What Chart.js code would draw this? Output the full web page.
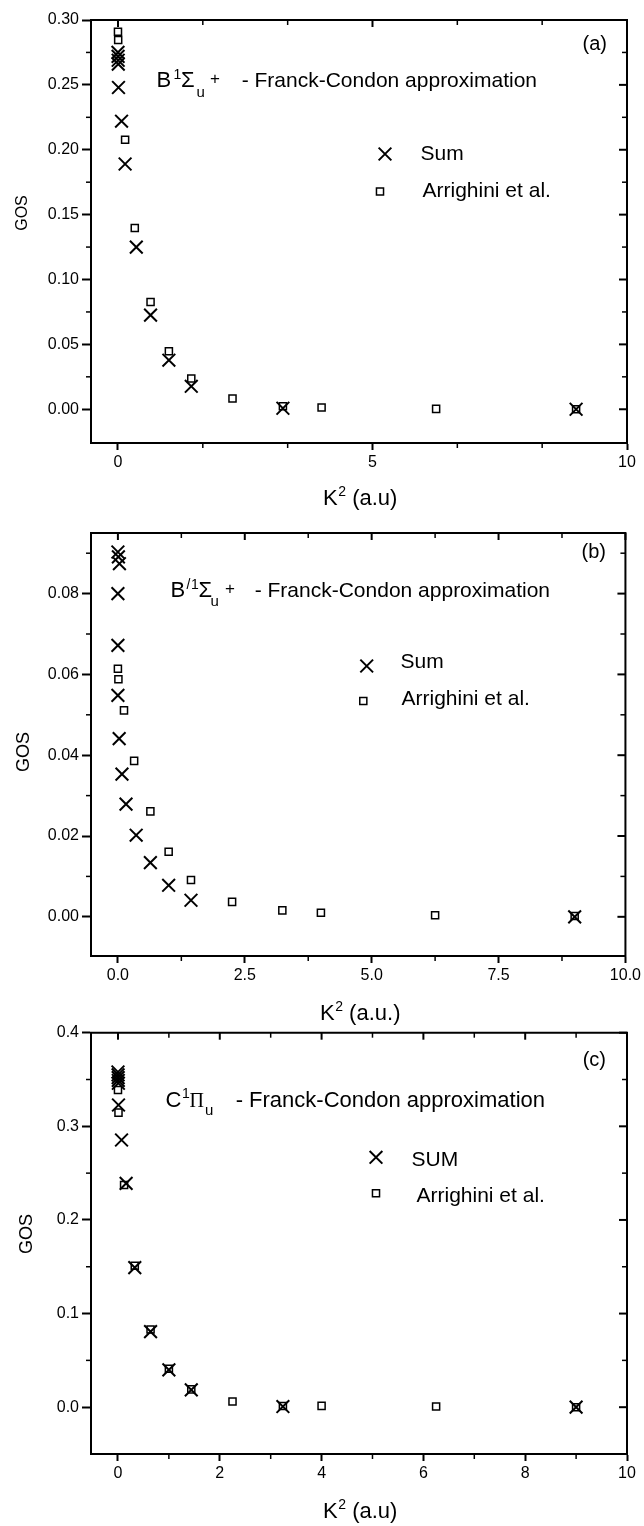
<!DOCTYPE html>
<html>
<head>
<meta charset="utf-8">
<script src="https://cdn.jsdelivr.net/npm/chart.js@4.4.1/dist/chart.umd.min.js"></script>
<style>
  body { margin: 0; background: #fff; }
  .painel { position: absolute; left: 0; width: 644px; }
</style>
</head>
<body>
<div class="painel" style="top:0px;height:515px"><canvas id="graficoA"></canvas></div>
<div class="painel" style="top:515px;height:510px"><canvas id="graficoB"></canvas></div>
<div class="painel" style="top:1018px;height:508px"><canvas id="graficoC"></canvas></div>
<script>
// (a) B1Σu+
const k2SomaA = [0, 0.002, 0.004, 0.006, 0.01, 0.07, 0.14, 0.36, 0.64, 1.0, 1.44, 3.24, 9.0]
const gosSomaA = [0.275, 0.272, 0.269, 0.266, 0.248, 0.222, 0.189, 0.125, 0.0725, 0.0378, 0.0177, 0.0008, 0.0]
const k2ArrA = [0, 0.004, 0.14, 0.33, 0.64, 1.0, 1.44, 2.25, 3.24, 4.0, 6.25, 9.0]
const gosArrA = [0.291, 0.2846, 0.2077, 0.1397, 0.0827, 0.0447, 0.0237, 0.0083, 0.0023, 0.0013, 0.0003, 0.0]

// (b) B'1Σu+
const k2SomaB = [0, 0.01, 0.03, 0, 0, 0, 0.025, 0.08, 0.16, 0.36, 0.64, 1.0, 1.44, 9.0]
const gosSomaB = [0.0903, 0.0891, 0.0874, 0.080, 0.0672, 0.0548, 0.0441, 0.0353, 0.0279, 0.0202, 0.0134, 0.0078, 0.0041, 0.0]
const k2ArrB = [0, 0.01, 0.12, 0.32, 0.64, 1.0, 1.44, 2.25, 3.24, 4.0, 6.25, 9.0]
const gosArrB = [0.0614, 0.0588, 0.0511, 0.0386, 0.0261, 0.0161, 0.0091, 0.0037, 0.0016, 0.0010, 0.0004, 0.0002]

// (c) C1Πu
const k2SomaC = [0, 0.002, 0.004, 0.006, 0.008, 0.01, 0.07, 0.16, 0.33, 0.64, 1.0, 1.44, 3.24, 9.0]
const gosSomaC = [0.358, 0.355, 0.352, 0.349, 0.346, 0.3228, 0.2854, 0.239, 0.149, 0.0807, 0.0398, 0.0185, 0.0007, 0.0]
const k2ArrC = [0, 0.01, 0.12, 0.33, 0.64, 1.0, 1.44, 2.25, 3.24, 4.0, 6.25, 9.0]
const gosArrC = [0.3388, 0.3146, 0.2374, 0.151, 0.083, 0.041, 0.019, 0.006, 0.0012, 0.0014, 0.0007, 0.0]

const SANS = '"Liberation Sans", Arial, sans-serif'
const SERIF = '"Liberation Serif", "Times New Roman", serif'

function pontos(xs, ys) {
  return xs.map((x, i) => ({ x: x, y: ys[i] }))
}

function menores(escala, passo, n) {
  const valores = []
  const sub = passo / (n + 1)
  const inicio = Math.floor(escala.min / passo) * passo
  for (let v = inicio; v <= escala.max + 1e-9; v += passo) {
    for (let k = 1; k <= n; k++) {
      const m = v + k * sub
      if (m > escala.min && m < escala.max) valores.push(m)
    }
  }
  return valores
}

function desenharMarcador(ctx, estilo, x, y) {
  ctx.save()
  ctx.strokeStyle = '#000'
  ctx.fillStyle = 'rgba(0,0,0,0)'
  if (estilo === 'crossRot') {
    ctx.lineWidth = 2
    Chart.helpers.drawPoint(ctx, { pointStyle: 'crossRot', radius: 9, borderWidth: 2, rotation: 0 }, x, y)
  } else {
    ctx.lineWidth = 1.5
    Chart.helpers.drawPoint(ctx, { pointStyle: 'rect', radius: 5, borderWidth: 1.5, rotation: 0 }, x, y)
  }
  ctx.restore()
}

const pluginMoldura = {
  id: 'moldura',
  afterDraw(chart, args, op) {
    const ctx = chart.ctx
    const a = chart.chartArea
    const sx = chart.scales.x
    const sy = chart.scales.y
    const topo = op.topo
    ctx.save()
    ctx.strokeStyle = '#000'
    ctx.lineWidth = 2
    ctx.beginPath()
    ctx.moveTo(a.left - 1, a.top)
    ctx.lineTo(a.right, a.top)
    ctx.lineTo(a.right, a.bottom + 1)
    ctx.stroke()

    // marcas principais de cima e da direita (para dentro)
    sx.ticks.forEach(t => {
      const px = sx.getPixelForValue(t.value)
      ctx.beginPath(); ctx.moveTo(px, a.top); ctx.lineTo(px, a.top + 7); ctx.stroke()
    })
    sy.ticks.forEach(t => {
      const py = sy.getPixelForValue(t.value)
      ctx.beginPath(); ctx.moveTo(a.right, py); ctx.lineTo(a.right - 8, py); ctx.stroke()
    })

    // marcas secundarias
    ctx.lineWidth = 1.5
    menores(sx, op.passoX, op.menoresX).forEach(v => {
      const px = sx.getPixelForValue(v)
      ctx.beginPath(); ctx.moveTo(px, a.bottom); ctx.lineTo(px, a.bottom + 5); ctx.stroke()
      ctx.beginPath(); ctx.moveTo(px, a.top); ctx.lineTo(px, a.top + 5); ctx.stroke()
    })
    menores(sy, op.passoY, op.menoresY).forEach(v => {
      const py = sy.getPixelForValue(v)
      if (Math.abs(py - a.bottom) < 3 || Math.abs(py - a.top) < 3) return
      ctx.beginPath(); ctx.moveTo(a.left, py); ctx.lineTo(a.left - 5, py); ctx.stroke()
      ctx.beginPath(); ctx.moveTo(a.right, py); ctx.lineTo(a.right - 5, py); ctx.stroke()
    })

    // textos
    ctx.fillStyle = '#000'
    ctx.textBaseline = 'alphabetic'
    op.textos.forEach(t => {
      ctx.font = t.f
      ctx.textAlign = t.al || 'left'
      if (t.rot) {
        ctx.save()
        ctx.translate(t.x, t.y - topo)
        ctx.rotate(-Math.PI / 2)
        ctx.textAlign = 'center'
        ctx.fillText(t.t, 0, 0)
        ctx.restore()
      } else {
        ctx.fillText(t.t, t.x, t.y - topo)
      }
    })

    // titulo do eixo x: K^2 (a.u)
    ctx.textAlign = 'left'
    ctx.font = '22px ' + SANS
    const wK = ctx.measureText('K').width
    const wR = ctx.measureText(op.unidade).width
    ctx.font = '14px ' + SANS
    const w2 = ctx.measureText('2').width
    let x = 360 - (wK + w2 + wR) / 2
    const yb = op.baseX - topo
    ctx.font = '22px ' + SANS
    ctx.fillText('K', x, yb)
    x += wK
    ctx.font = '14px ' + SANS
    ctx.fillText('2', x + 0.5, yb - 9)
    x += w2 + 0.5
    ctx.font = '22px ' + SANS
    ctx.fillText(op.unidade, x, yb)
    ctx.restore()

    // legenda
    desenharMarcador(ctx, 'crossRot', op.legX[0], op.legX[1] - topo)
    desenharMarcador(ctx, 'rect', op.legQ[0], op.legQ[1] - topo)
  }
}

function criarGrafico(id, c) {
  return new Chart(document.getElementById(id), {
    type: 'scatter',
    data: {
      datasets: [{
        label: 'Arrighini et al.',
        data: pontos(c.k2Arr, c.gosArr),
        pointStyle: 'rect',
        pointRadius: 5,
        pointHoverRadius: 5,
        pointBorderWidth: 1.5,
        pointBorderColor: '#000',
        pointBackgroundColor: 'rgba(0,0,0,0)',
        clip: false
      }, {
        label: c.nomeSoma,
        data: pontos(c.k2Soma, c.gosSoma),
        pointStyle: 'crossRot',
        pointRadius: 9,
        pointHoverRadius: 9,
        pointBorderWidth: 2,
        pointBorderColor: '#000',
        pointBackgroundColor: 'rgba(0,0,0,0)',
        clip: false
      }]
    },
    options: {
      responsive: true,
      maintainAspectRatio: false,
      animation: false,
      events: [],
      layout: { padding: { top: c.padTopo, right: 17, left: 0, bottom: 0 } },
      plugins: {
        legend: { display: false },
        tooltip: { enabled: false },
        moldura: {
          topo: c.topo, passoX: c.passoX, passoY: c.passoY,
          menoresX: c.menoresX, menoresY: c.menoresY,
          textos: c.textos, unidade: c.unidade, baseX: c.baseX,
          legX: c.legX, legQ: c.legQ
        }
      },
      scales: {
        x: {
          type: 'linear',
          min: -0.53,
          max: 10,
          afterFit: (e) => { e.height = c.alturaX },
          border: { display: true, color: '#000', width: 2 },
          grid: { display: true, drawOnChartArea: false, drawTicks: true, tickLength: 7, tickWidth: 2, tickColor: '#000' },
          ticks: {
            stepSize: c.passoX,
            includeBounds: false,
            autoSkip: false,
            maxRotation: 0,
            padding: 3,
            color: '#000',
            font: { family: SANS, size: 16 },
            callback: (v) => v.toFixed(c.casasX)
          }
        },
        y: {
          type: 'linear',
          min: c.yMin,
          max: c.yMax,
          afterFit: (e) => { e.width = 91 },
          border: { display: true, color: '#000', width: 2 },
          grid: { display: true, drawOnChartArea: false, drawTicks: true, tickLength: 9, tickWidth: 2, tickColor: '#000' },
          ticks: {
            stepSize: c.passoY,
            includeBounds: false,
            autoSkip: false,
            padding: 3,
            color: '#000',
            font: { family: SANS, size: 16 },
            callback: (v) => v.toFixed(c.casasY)
          }
        }
      }
    },
    plugins: [pluginMoldura]
  })
}

const F22 = '22px ' + SANS
const F21 = '21px ' + SANS
const F15 = '15px ' + SANS
const F14 = '14px ' + SANS
const F17 = '17px ' + SANS

criarGrafico('graficoA', {
  topo: 0, padTopo: 20, alturaX: 72,
  k2Soma: k2SomaA, gosSoma: gosSomaA, k2Arr: k2ArrA, gosArr: gosArrA, nomeSoma: 'Sum',
  yMin: -0.026, yMax: 0.30, passoY: 0.05, menoresY: 1, casasY: 2,
  passoX: 5, menoresX: 2, casasX: 0,
  unidade: ' (a.u)', baseX: 505,
  legX: [385, 154], legQ: [380, 191.5],
  textos: [
    { t: 'B', f: F22, x: 156.5, y: 87 },
    { t: '1', f: F14, x: 173.5, y: 79 },
    { t: 'Σ', f: F22, x: 181, y: 87 },
    { t: 'u', f: F15, x: 196.5, y: 97 },
    { t: '+', f: F17, x: 210, y: 84 },
    { t: '- Franck-Condon approximation', f: F21, x: 537, y: 87, al: 'right' },
    { t: 'Sum', f: F21, x: 420.5, y: 160 },
    { t: 'Arrighini et al.', f: F21, x: 422.5, y: 197 },
    { t: '(a)', f: '20px ' + SANS, x: 607, y: 50, al: 'right' },
    { t: 'GOS', f: '16px ' + SANS, x: 26.5, y: 213, rot: true }
  ]
})

criarGrafico('graficoB', {
  topo: 515, padTopo: 18, alturaX: 69,
  k2Soma: k2SomaB, gosSoma: gosSomaB, k2Arr: k2ArrB, gosArr: gosArrB, nomeSoma: 'Sum',
  yMin: -0.0097, yMax: 0.095, passoY: 0.02, menoresY: 1, casasY: 2,
  passoX: 2.5, menoresX: 1, casasX: 1,
  unidade: ' (a.u.)', baseX: 1020,
  legX: [366.7, 666], legQ: [363.3, 701],
  textos: [
    { t: 'B', f: F22, x: 170.5, y: 597 },
    { t: '/', f: F14, x: 186.5, y: 589 },
    { t: '1', f: F14, x: 191, y: 589 },
    { t: 'Σ', f: F22, x: 198.5, y: 597 },
    { t: 'u', f: F15, x: 210.5, y: 606 },
    { t: '+', f: F17, x: 225, y: 594 },
    { t: '- Franck-Condon approximation', f: F21, x: 550, y: 597, al: 'right' },
    { t: 'Sum', f: F21, x: 400.5, y: 668 },
    { t: 'Arrighini et al.', f: F21, x: 401.5, y: 705 },
    { t: '(b)', f: '20px ' + SANS, x: 606, y: 558, al: 'right' },
    { t: 'GOS', f: '18px ' + SANS, x: 29, y: 752, rot: true }
  ]
})

criarGrafico('graficoC', {
  topo: 1018, padTopo: 14.7, alturaX: 72,
  k2Soma: k2SomaC, gosSoma: gosSomaC, k2Arr: k2ArrC, gosArr: gosArrC, nomeSoma: 'SUM',
  yMin: -0.05, yMax: 0.4, passoY: 0.1, menoresY: 1, casasY: 1,
  passoX: 2, menoresX: 1, casasX: 0,
  unidade: ' (a.u)', baseX: 1518,
  legX: [376, 1157.3], legQ: [376, 1193.3],
  textos: [
    { t: 'C', f: F22, x: 165.5, y: 1107 },
    { t: '1', f: F14, x: 182, y: 1098 },
    { t: 'Π', f: '20px ' + SERIF, x: 189.5, y: 1107 },
    { t: 'u', f: F15, x: 205, y: 1115 },
    { t: '- Franck-Condon approximation', f: '22px ' + SANS, x: 545, y: 1107, al: 'right' },
    { t: 'SUM', f: F21, x: 411.5, y: 1165.7 },
    { t: 'Arrighini et al.', f: F21, x: 416.5, y: 1201.7 },
    { t: '(c)', f: '20px ' + SANS, x: 606, y: 1066, al: 'right' },
    { t: 'GOS', f: '18px ' + SANS, x: 31.5, y: 1234, rot: true }
  ]
})
</script>
</body>
</html>
